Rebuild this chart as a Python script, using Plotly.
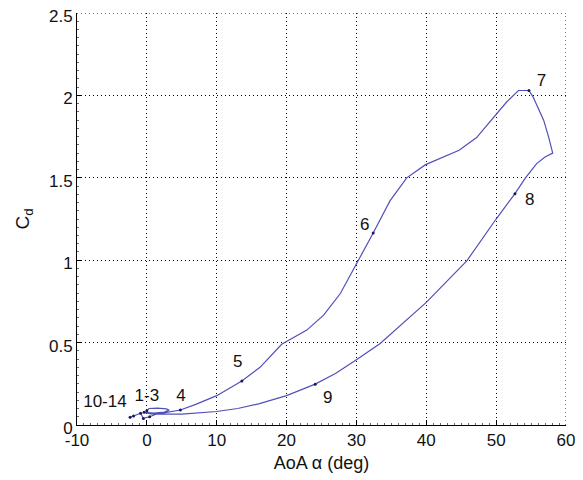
import plotly.graph_objects as go

# Hysteresis loop: angle of attack (deg) vs drag coefficient
aoa = [0.0, 0.3, 1.5, 2.8, 3.2, 2.5, 1.0, 0.0, -0.4, 0.6, 2.0, 4.8,
       7.0, 10.0, 13.6, 16.2, 19.3, 22.9, 25.3, 27.7, 30.0, 32.4, 34.8,
       37.2, 39.9, 44.7, 47.2, 49.9, 51.5, 53.2, 54.7, 55.3, 56.8, 57.5,
       58.1, 57.0, 55.8, 54.2, 52.7, 50.0, 45.8, 40.0, 36.2, 33.4, 30.0,
       27.0, 24.1, 22.0, 20.0, 16.0, 13.0, 10.0, 5.0, 1.4, 0.4, -0.5,
       -0.9, -1.9, -2.4]
cd = [0.087, 0.100, 0.102, 0.098, 0.090, 0.078, 0.072, 0.077, 0.077, 0.068,
      0.070, 0.091, 0.125, 0.178, 0.267, 0.350, 0.490, 0.576, 0.667, 0.798,
      0.975, 1.165, 1.360, 1.500, 1.580, 1.667, 1.744, 1.879, 1.960, 2.030,
      2.030, 1.990, 1.850, 1.750, 1.650, 1.626, 1.586, 1.500, 1.404, 1.250,
      0.996, 0.744, 0.600, 0.495, 0.396, 0.312, 0.248, 0.210, 0.178, 0.128,
      0.100, 0.082, 0.066, 0.067, 0.050, 0.040, 0.071, 0.055, 0.047]

# marked time instants
mark_aoa = [-2.4, -1.9, -0.9, -0.4, 0.0, -0.5, 0.4, 4.8, 13.6, 32.4, 54.7, 52.7, 24.1]
mark_cd = [0.047, 0.055, 0.071, 0.077, 0.087, 0.040, 0.050, 0.091, 0.267, 1.165, 2.030, 1.404, 0.248]

label_text = ["10-14", "1-3", "4", "5", "6", "7", "8", "9"]
label_x = [-6.0, 0.0, 4.9, 13.0, 31.2, 56.5, 54.8, 25.9]
label_y = [0.135, 0.17, 0.17, 0.38, 1.21, 2.08, 1.36, 0.16]

x_ticks = [-10, 0, 10, 20, 30, 40, 50, 60]
x_tick_labels = ["-10", "0", "10", "20", "30", "40", "50", "60"]
y_ticks = [0, 0.5, 1, 1.5, 2, 2.5]
y_tick_labels = ["0", "0.5", "1", "1.5", "2", "2.5"]

FONT = "Liberation Sans, Arial, Helvetica, sans-serif"

fig = go.Figure()
fig.add_trace(go.Scatter(x=aoa, y=cd, mode="lines",
                         line=dict(color="#5050b8", width=1.2),
                         hoverinfo="skip", showlegend=False))
fig.add_trace(go.Scatter(x=mark_aoa, y=mark_cd, mode="markers",
                         marker=dict(color="#1a1a5a", size=3),
                         showlegend=False))
fig.add_trace(go.Scatter(x=label_x, y=label_y, mode="text", text=label_text,
                         textfont=dict(family=FONT, size=17, color="#111111"),
                         showlegend=False))

axis_common = dict(
    showline=True, linecolor="black", linewidth=1,
    showgrid=True, gridcolor="black", gridwidth=1, griddash="1px,3px",
    zeroline=False, ticks="inside", ticklen=5, tickcolor="black",
    tickfont=dict(family=FONT, size=17, color="#111111"),
    mirror=False, automargin=False, ticklabeloverflow="allow",
)

fig.update_xaxes(range=[x_ticks[0], x_ticks[-1] + 0.002], tickvals=x_ticks, ticktext=x_tick_labels,
                 minor=dict(dtick=1, ticks="inside", ticklen=2, tickcolor="#666666", showgrid=False),
                 title=dict(text="AoA α (deg)", font=dict(family=FONT, size=18, color="#111111"), standoff=6),
                 **axis_common)
fig.update_yaxes(range=[y_ticks[0], y_ticks[-1] + 0.0002], tickvals=y_ticks, ticktext=y_tick_labels,
                 ticklabelshift=3,
                 minor=dict(dtick=0.05, ticks="inside", ticklen=2, tickcolor="#666666", showgrid=False),
                 title=dict(text="C<sub>d</sub>", font=dict(family=FONT, size=19, color="#111111"), standoff=14),
                 **axis_common)

# edge gridlines (top and right) that plotly omits at the range limits
fig.add_shape(type="line", xref="x", yref="y", x0=x_ticks[0], x1=x_ticks[-1],
              y0=y_ticks[-1], y1=y_ticks[-1], line=dict(color="black", width=1, dash="1px,3px"))
fig.add_shape(type="line", xref="x", yref="y", x0=x_ticks[-1], x1=x_ticks[-1],
              y0=y_ticks[0], y1=y_ticks[-1], line=dict(color="black", width=1, dash="1px,3px"))

# page body has an 8px default margin, so the figure is sized to fit the window
fig.update_layout(
    width=575, height=472,
    margin=dict(l=69, r=17, t=5, b=55),
    plot_bgcolor="white", paper_bgcolor="white",
    font=dict(family=FONT),
)

fig.write_html("out.html")
